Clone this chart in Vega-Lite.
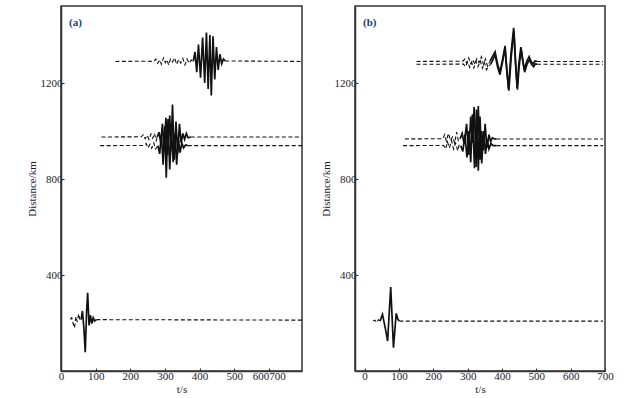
{
  "$schema": "https://vega.github.io/schema/vega-lite/v6.json",
  "background": "white",
  "padding": {"left": 25, "top": 5, "right": 5, "bottom": 5},
  "spacing": 16,
  "config": {
    "font": "Liberation Serif",
    "view": {"stroke": "#333", "strokeWidth": 1.5},
    "axis": {"grid": false, "domainColor": "#333", "domainWidth": 1.5, "tickColor": "#333", "tickSize": -3, "labelFont": "Liberation Serif", "labelFontSize": 11, "labelColor": "#1a1a2e", "titleFont": "Liberation Serif", "titleFontSize": 11, "titleFontWeight": "normal", "titleColor": "#1a1a2e", "labelPadding": 2, "labelFlush": false, "format": "d"}
  },
  "datasets": {
    "a": [
      {"tr":"a1p","s":"dashed","t":157,"km":1290},{"tr":"a1p","s":"dashed","t":250,"km":1291},{"tr":"a1p","s":"dashed","t":268,"km":1290},{"tr":"a1p","s":"dashed","t":274,"km":1300},{"tr":"a1p","s":"dashed","t":279,"km":1282},{"tr":"a1p","s":"dashed","t":285,"km":1296},{"tr":"a1p","s":"dashed","t":290,"km":1278},{"tr":"a1p","s":"dashed","t":296,"km":1305},{"tr":"a1p","s":"dashed","t":301,"km":1285},{"tr":"a1p","s":"dashed","t":306,"km":1297},{"tr":"a1p","s":"dashed","t":311,"km":1275},{"tr":"a1p","s":"dashed","t":316,"km":1300},{"tr":"a1p","s":"dashed","t":322,"km":1288},{"tr":"a1p","s":"dashed","t":328,"km":1305},{"tr":"a1p","s":"dashed","t":334,"km":1278},{"tr":"a1p","s":"dashed","t":340,"km":1298},{"tr":"a1p","s":"dashed","t":346,"km":1283},{"tr":"a1p","s":"dashed","t":352,"km":1302},{"tr":"a1p","s":"dashed","t":358,"km":1276},{"tr":"a1p","s":"dashed","t":364,"km":1300},{"tr":"a1p","s":"dashed","t":370,"km":1282},{"tr":"a1p","s":"dashed","t":376,"km":1296},{"tr":"a1p","s":"dashed","t":382,"km":1290},
      {"tr":"a1s","s":"solid","t":382,"km":1290},{"tr":"a1s","s":"solid","t":387,"km":1330},{"tr":"a1s","s":"solid","t":392,"km":1245},{"tr":"a1s","s":"solid","t":397,"km":1360},{"tr":"a1s","s":"solid","t":403,"km":1222},{"tr":"a1s","s":"solid","t":409,"km":1390},{"tr":"a1s","s":"solid","t":415,"km":1200},{"tr":"a1s","s":"solid","t":420,"km":1410},{"tr":"a1s","s":"solid","t":425,"km":1175},{"tr":"a1s","s":"solid","t":430,"km":1400},{"tr":"a1s","s":"solid","t":434,"km":1148},{"tr":"a1s","s":"solid","t":439,"km":1395},{"tr":"a1s","s":"solid","t":444,"km":1215},{"tr":"a1s","s":"solid","t":449,"km":1350},{"tr":"a1s","s":"solid","t":454,"km":1255},{"tr":"a1s","s":"solid","t":459,"km":1320},{"tr":"a1s","s":"solid","t":464,"km":1280},{"tr":"a1s","s":"solid","t":469,"km":1300},{"tr":"a1s","s":"solid","t":474,"km":1292},
      {"tr":"a1q","s":"dashed","t":474,"km":1292},{"tr":"a1q","s":"dashed","t":696,"km":1290},
      {"tr":"a2p","s":"dashed","t":117,"km":975},{"tr":"a2p","s":"dashed","t":232,"km":976},{"tr":"a2p","s":"dashed","t":238,"km":985},{"tr":"a2p","s":"dashed","t":243,"km":968},{"tr":"a2p","s":"dashed","t":249,"km":982},{"tr":"a2p","s":"dashed","t":254,"km":965},{"tr":"a2p","s":"dashed","t":260,"km":988},{"tr":"a2p","s":"dashed","t":265,"km":970},{"tr":"a2p","s":"dashed","t":270,"km":990},{"tr":"a2p","s":"dashed","t":275,"km":960},{"tr":"a2p","s":"dashed","t":278,"km":975},
      {"tr":"a2s","s":"solid","t":278,"km":975},{"tr":"a2s","s":"solid","t":283,"km":995},{"tr":"a2s","s":"solid","t":288,"km":950},{"tr":"a2s","s":"solid","t":293,"km":1030},{"tr":"a2s","s":"solid","t":298,"km":920},{"tr":"a2s","s":"solid","t":303,"km":1055},{"tr":"a2s","s":"solid","t":308,"km":900},{"tr":"a2s","s":"solid","t":314,"km":1065},{"tr":"a2s","s":"solid","t":318,"km":930},{"tr":"a2s","s":"solid","t":322,"km":1110},{"tr":"a2s","s":"solid","t":327,"km":880},{"tr":"a2s","s":"solid","t":332,"km":1040},{"tr":"a2s","s":"solid","t":337,"km":905},{"tr":"a2s","s":"solid","t":342,"km":1030},{"tr":"a2s","s":"solid","t":347,"km":950},{"tr":"a2s","s":"solid","t":352,"km":990},{"tr":"a2s","s":"solid","t":357,"km":965},{"tr":"a2s","s":"solid","t":362,"km":990},{"tr":"a2s","s":"solid","t":367,"km":972},{"tr":"a2s","s":"solid","t":375,"km":975},
      {"tr":"a2q","s":"dashed","t":375,"km":975},{"tr":"a2q","s":"dashed","t":696,"km":975},
      {"tr":"a3p","s":"dashed","t":113,"km":939},{"tr":"a3p","s":"dashed","t":240,"km":940},{"tr":"a3p","s":"dashed","t":246,"km":948},{"tr":"a3p","s":"dashed","t":251,"km":930},{"tr":"a3p","s":"dashed","t":257,"km":945},{"tr":"a3p","s":"dashed","t":262,"km":928},{"tr":"a3p","s":"dashed","t":268,"km":950},{"tr":"a3p","s":"dashed","t":273,"km":925},{"tr":"a3p","s":"dashed","t":280,"km":939},
      {"tr":"a3s","s":"solid","t":280,"km":939},{"tr":"a3s","s":"solid","t":285,"km":905},{"tr":"a3s","s":"solid","t":290,"km":985},{"tr":"a3s","s":"solid","t":295,"km":860},{"tr":"a3s","s":"solid","t":300,"km":1020},{"tr":"a3s","s":"solid","t":304,"km":805},{"tr":"a3s","s":"solid","t":309,"km":1050},{"tr":"a3s","s":"solid","t":314,"km":840},{"tr":"a3s","s":"solid","t":319,"km":1000},{"tr":"a3s","s":"solid","t":324,"km":870},{"tr":"a3s","s":"solid","t":329,"km":990},{"tr":"a3s","s":"solid","t":334,"km":860},{"tr":"a3s","s":"solid","t":339,"km":965},{"tr":"a3s","s":"solid","t":344,"km":910},{"tr":"a3s","s":"solid","t":349,"km":950},{"tr":"a3s","s":"solid","t":354,"km":930},{"tr":"a3s","s":"solid","t":360,"km":942},{"tr":"a3s","s":"solid","t":366,"km":939},
      {"tr":"a3q","s":"dashed","t":366,"km":939},{"tr":"a3q","s":"dashed","t":696,"km":939},
      {"tr":"a4p","s":"dashed","t":27,"km":215},{"tr":"a4p","s":"dashed","t":31,"km":222},{"tr":"a4p","s":"dashed","t":35,"km":198},{"tr":"a4p","s":"dashed","t":39,"km":180},{"tr":"a4p","s":"dashed","t":43,"km":226},{"tr":"a4p","s":"dashed","t":47,"km":205},{"tr":"a4p","s":"dashed","t":51,"km":238},{"tr":"a4p","s":"dashed","t":55,"km":210},{"tr":"a4p","s":"dashed","t":58,"km":214},
      {"tr":"a4s","s":"solid","t":58,"km":214},{"tr":"a4s","s":"solid","t":62,"km":250},{"tr":"a4s","s":"solid","t":66,"km":180},{"tr":"a4s","s":"solid","t":70,"km":78},{"tr":"a4s","s":"solid","t":74,"km":250},{"tr":"a4s","s":"solid","t":77,"km":326},{"tr":"a4s","s":"solid","t":81,"km":190},{"tr":"a4s","s":"solid","t":85,"km":232},{"tr":"a4s","s":"solid","t":89,"km":198},{"tr":"a4s","s":"solid","t":93,"km":222},{"tr":"a4s","s":"solid","t":97,"km":208},{"tr":"a4s","s":"solid","t":102,"km":214},
      {"tr":"a4q","s":"dashed","t":102,"km":214},{"tr":"a4q","s":"dashed","t":696,"km":212}
    ],
    "b": [
      {"tr":"b1p","s":"dashed","t":151,"km":1290},{"tr":"b1p","s":"dashed","t":286,"km":1291},{"tr":"b1p","s":"dashed","t":292,"km":1300},{"tr":"b1p","s":"dashed","t":297,"km":1283},{"tr":"b1p","s":"dashed","t":303,"km":1305},{"tr":"b1p","s":"dashed","t":309,"km":1280},{"tr":"b1p","s":"dashed","t":315,"km":1298},{"tr":"b1p","s":"dashed","t":321,"km":1278},{"tr":"b1p","s":"dashed","t":327,"km":1302},{"tr":"b1p","s":"dashed","t":333,"km":1285},{"tr":"b1p","s":"dashed","t":340,"km":1310},{"tr":"b1p","s":"dashed","t":346,"km":1278},{"tr":"b1p","s":"dashed","t":352,"km":1300},{"tr":"b1p","s":"dashed","t":358,"km":1270},{"tr":"b1p","s":"dashed","t":365,"km":1290},
      {"tr":"b1s","s":"solid","t":365,"km":1290},{"tr":"b1s","s":"solid","t":372,"km":1310},{"tr":"b1s","s":"solid","t":380,"km":1330},{"tr":"b1s","s":"solid","t":387,"km":1280},{"tr":"b1s","s":"solid","t":394,"km":1245},{"tr":"b1s","s":"solid","t":402,"km":1300},{"tr":"b1s","s":"solid","t":409,"km":1355},{"tr":"b1s","s":"solid","t":414,"km":1260},{"tr":"b1s","s":"solid","t":419,"km":1175},{"tr":"b1s","s":"solid","t":426,"km":1320},{"tr":"b1s","s":"solid","t":434,"km":1430},{"tr":"b1s","s":"solid","t":439,"km":1290},{"tr":"b1s","s":"solid","t":444,"km":1180},{"tr":"b1s","s":"solid","t":449,"km":1280},{"tr":"b1s","s":"solid","t":455,"km":1350},{"tr":"b1s","s":"solid","t":460,"km":1300},{"tr":"b1s","s":"solid","t":465,"km":1255},{"tr":"b1s","s":"solid","t":472,"km":1290},{"tr":"b1s","s":"solid","t":479,"km":1310},{"tr":"b1s","s":"solid","t":485,"km":1290},{"tr":"b1s","s":"solid","t":491,"km":1280},{"tr":"b1s","s":"solid","t":496,"km":1292},{"tr":"b1s","s":"solid","t":502,"km":1290},
      {"tr":"b1q","s":"dashed","t":502,"km":1290},{"tr":"b1q","s":"dashed","t":694,"km":1290},
      {"tr":"b2p","s":"dashed","t":151,"km":1278},{"tr":"b2p","s":"dashed","t":288,"km":1279},{"tr":"b2p","s":"dashed","t":294,"km":1268},{"tr":"b2p","s":"dashed","t":300,"km":1288},{"tr":"b2p","s":"dashed","t":306,"km":1265},{"tr":"b2p","s":"dashed","t":312,"km":1285},{"tr":"b2p","s":"dashed","t":318,"km":1262},{"tr":"b2p","s":"dashed","t":324,"km":1290},{"tr":"b2p","s":"dashed","t":330,"km":1268},{"tr":"b2p","s":"dashed","t":337,"km":1292},{"tr":"b2p","s":"dashed","t":343,"km":1262},{"tr":"b2p","s":"dashed","t":349,"km":1285},{"tr":"b2p","s":"dashed","t":355,"km":1255},{"tr":"b2p","s":"dashed","t":362,"km":1272},{"tr":"b2p","s":"dashed","t":367,"km":1278},
      {"tr":"b2s","s":"solid","t":367,"km":1278},{"tr":"b2s","s":"solid","t":373,"km":1295},{"tr":"b2s","s":"solid","t":380,"km":1318},{"tr":"b2s","s":"solid","t":387,"km":1268},{"tr":"b2s","s":"solid","t":394,"km":1235},{"tr":"b2s","s":"solid","t":402,"km":1290},{"tr":"b2s","s":"solid","t":409,"km":1345},{"tr":"b2s","s":"solid","t":414,"km":1250},{"tr":"b2s","s":"solid","t":420,"km":1168},{"tr":"b2s","s":"solid","t":427,"km":1310},{"tr":"b2s","s":"solid","t":435,"km":1418},{"tr":"b2s","s":"solid","t":440,"km":1280},{"tr":"b2s","s":"solid","t":445,"km":1172},{"tr":"b2s","s":"solid","t":450,"km":1270},{"tr":"b2s","s":"solid","t":456,"km":1340},{"tr":"b2s","s":"solid","t":461,"km":1290},{"tr":"b2s","s":"solid","t":466,"km":1245},{"tr":"b2s","s":"solid","t":473,"km":1278},{"tr":"b2s","s":"solid","t":480,"km":1298},{"tr":"b2s","s":"solid","t":486,"km":1278},{"tr":"b2s","s":"solid","t":492,"km":1268},{"tr":"b2s","s":"solid","t":497,"km":1280},{"tr":"b2s","s":"solid","t":502,"km":1278},
      {"tr":"b2q","s":"dashed","t":502,"km":1278},{"tr":"b2q","s":"dashed","t":694,"km":1278},
      {"tr":"b3p","s":"dashed","t":117,"km":967},{"tr":"b3p","s":"dashed","t":228,"km":968},{"tr":"b3p","s":"dashed","t":233,"km":985},{"tr":"b3p","s":"dashed","t":238,"km":958},{"tr":"b3p","s":"dashed","t":244,"km":990},{"tr":"b3p","s":"dashed","t":250,"km":960},{"tr":"b3p","s":"dashed","t":256,"km":975},{"tr":"b3p","s":"dashed","t":262,"km":950},{"tr":"b3p","s":"dashed","t":268,"km":995},{"tr":"b3p","s":"dashed","t":273,"km":960},{"tr":"b3p","s":"dashed","t":278,"km":967},
      {"tr":"b3s","s":"solid","t":278,"km":967},{"tr":"b3s","s":"solid","t":284,"km":990},{"tr":"b3s","s":"solid","t":290,"km":945},{"tr":"b3s","s":"solid","t":297,"km":1030},{"tr":"b3s","s":"solid","t":303,"km":900},{"tr":"b3s","s":"solid","t":309,"km":1060},{"tr":"b3s","s":"solid","t":314,"km":950},{"tr":"b3s","s":"solid","t":319,"km":1100},{"tr":"b3s","s":"solid","t":325,"km":850},{"tr":"b3s","s":"solid","t":331,"km":1104},{"tr":"b3s","s":"solid","t":336,"km":880},{"tr":"b3s","s":"solid","t":341,"km":1000},{"tr":"b3s","s":"solid","t":346,"km":920},{"tr":"b3s","s":"solid","t":351,"km":1030},{"tr":"b3s","s":"solid","t":356,"km":930},{"tr":"b3s","s":"solid","t":362,"km":985},{"tr":"b3s","s":"solid","t":367,"km":955},{"tr":"b3s","s":"solid","t":372,"km":972},{"tr":"b3s","s":"solid","t":378,"km":967},{"tr":"b3s","s":"solid","t":384,"km":967},
      {"tr":"b3q","s":"dashed","t":384,"km":967},{"tr":"b3q","s":"dashed","t":694,"km":967},
      {"tr":"b4p","s":"dashed","t":112,"km":939},{"tr":"b4p","s":"dashed","t":230,"km":940},{"tr":"b4p","s":"dashed","t":236,"km":925},{"tr":"b4p","s":"dashed","t":241,"km":955},{"tr":"b4p","s":"dashed","t":247,"km":930},{"tr":"b4p","s":"dashed","t":253,"km":960},{"tr":"b4p","s":"dashed","t":259,"km":925},{"tr":"b4p","s":"dashed","t":265,"km":950},{"tr":"b4p","s":"dashed","t":271,"km":918},{"tr":"b4p","s":"dashed","t":276,"km":945},{"tr":"b4p","s":"dashed","t":280,"km":939},
      {"tr":"b4s","s":"solid","t":280,"km":939},{"tr":"b4s","s":"solid","t":286,"km":915},{"tr":"b4s","s":"solid","t":292,"km":985},{"tr":"b4s","s":"solid","t":298,"km":890},{"tr":"b4s","s":"solid","t":304,"km":1000},{"tr":"b4s","s":"solid","t":309,"km":870},{"tr":"b4s","s":"solid","t":314,"km":1070},{"tr":"b4s","s":"solid","t":320,"km":845},{"tr":"b4s","s":"solid","t":326,"km":1090},{"tr":"b4s","s":"solid","t":331,"km":835},{"tr":"b4s","s":"solid","t":336,"km":1060},{"tr":"b4s","s":"solid","t":341,"km":865},{"tr":"b4s","s":"solid","t":347,"km":1000},{"tr":"b4s","s":"solid","t":352,"km":905},{"tr":"b4s","s":"solid","t":357,"km":965},{"tr":"b4s","s":"solid","t":362,"km":925},{"tr":"b4s","s":"solid","t":368,"km":948},{"tr":"b4s","s":"solid","t":374,"km":939},{"tr":"b4s","s":"solid","t":384,"km":939},
      {"tr":"b4q","s":"dashed","t":384,"km":939},{"tr":"b4q","s":"dashed","t":694,"km":939},
      {"tr":"b5p","s":"dashed","t":25,"km":208},{"tr":"b5p","s":"dashed","t":30,"km":212},{"tr":"b5p","s":"dashed","t":35,"km":202},{"tr":"b5p","s":"dashed","t":40,"km":214},{"tr":"b5p","s":"dashed","t":45,"km":208},
      {"tr":"b5s","s":"solid","t":45,"km":208},{"tr":"b5s","s":"solid","t":52,"km":236},{"tr":"b5s","s":"solid","t":60,"km":180},{"tr":"b5s","s":"solid","t":67,"km":125},{"tr":"b5s","s":"solid","t":76,"km":350},{"tr":"b5s","s":"solid","t":84,"km":97},{"tr":"b5s","s":"solid","t":92,"km":240},{"tr":"b5s","s":"solid","t":97,"km":215},{"tr":"b5s","s":"solid","t":101,"km":208},
      {"tr":"b5q","s":"dashed","t":101,"km":208},{"tr":"b5q","s":"dashed","t":694,"km":208}
    ]
  },
  "hconcat": [
    {
      "width": 241, "height": 365,
      "title": {"text": "(a)", "anchor": "start", "frame": "group", "orient": "top", "offset": -22, "dx": 8, "fontSize": 11, "fontWeight": "bold", "color": "#1f3a7a", "font": "Liberation Serif"},
      "data": {"name": "a"},
      "mark": {"type": "line", "clip": true, "color": "#111"},
      "encoding": {
        "x": {"field": "t", "type": "quantitative", "scale": {"domain": [0, 696], "nice": false, "zero": false}, "axis": {"values": [0, 100, 200, 300, 400, 500, 600], "labelExpr": "datum.value == 600 ? '600700' : datum.label", "title": "t/s", "titlePadding": 2}},
        "y": {"field": "km", "type": "quantitative", "scale": {"domain": [0, 1521], "nice": false}, "axis": {"values": [400, 800, 1200], "title": "Distance/km", "titlePadding": 3}},
        "detail": {"field": "tr"},
        "strokeDash": {"field": "s", "type": "nominal", "scale": {"domain": ["dashed", "solid"], "range": [[4, 2.5], [1, 0]]}, "legend": null},
        "strokeWidth": {"field": "s", "type": "nominal", "scale": {"domain": ["dashed", "solid"], "range": [1.1, 1.7]}, "legend": null}
      }
    },
    {
      "width": 250, "height": 365,
      "title": {"text": "(b)", "anchor": "start", "frame": "group", "orient": "top", "offset": -22, "dx": 8, "fontSize": 11, "fontWeight": "bold", "color": "#1f3a7a", "font": "Liberation Serif"},
      "data": {"name": "b"},
      "mark": {"type": "line", "clip": true, "color": "#111"},
      "encoding": {
        "x": {"field": "t", "type": "quantitative", "scale": {"domain": [-28, 700], "nice": false, "zero": false}, "axis": {"values": [0, 100, 200, 300, 400, 500, 600, 700], "title": "t/s", "titlePadding": 2}},
        "y": {"field": "km", "type": "quantitative", "scale": {"domain": [0, 1521], "nice": false}, "axis": {"values": [400, 800, 1200], "title": "Distance/km", "titlePadding": 3}},
        "detail": {"field": "tr"},
        "strokeDash": {"field": "s", "type": "nominal", "scale": {"domain": ["dashed", "solid"], "range": [[4, 2.5], [1, 0]]}, "legend": null},
        "strokeWidth": {"field": "s", "type": "nominal", "scale": {"domain": ["dashed", "solid"], "range": [1.1, 1.7]}, "legend": null}
      }
    }
  ]
}
